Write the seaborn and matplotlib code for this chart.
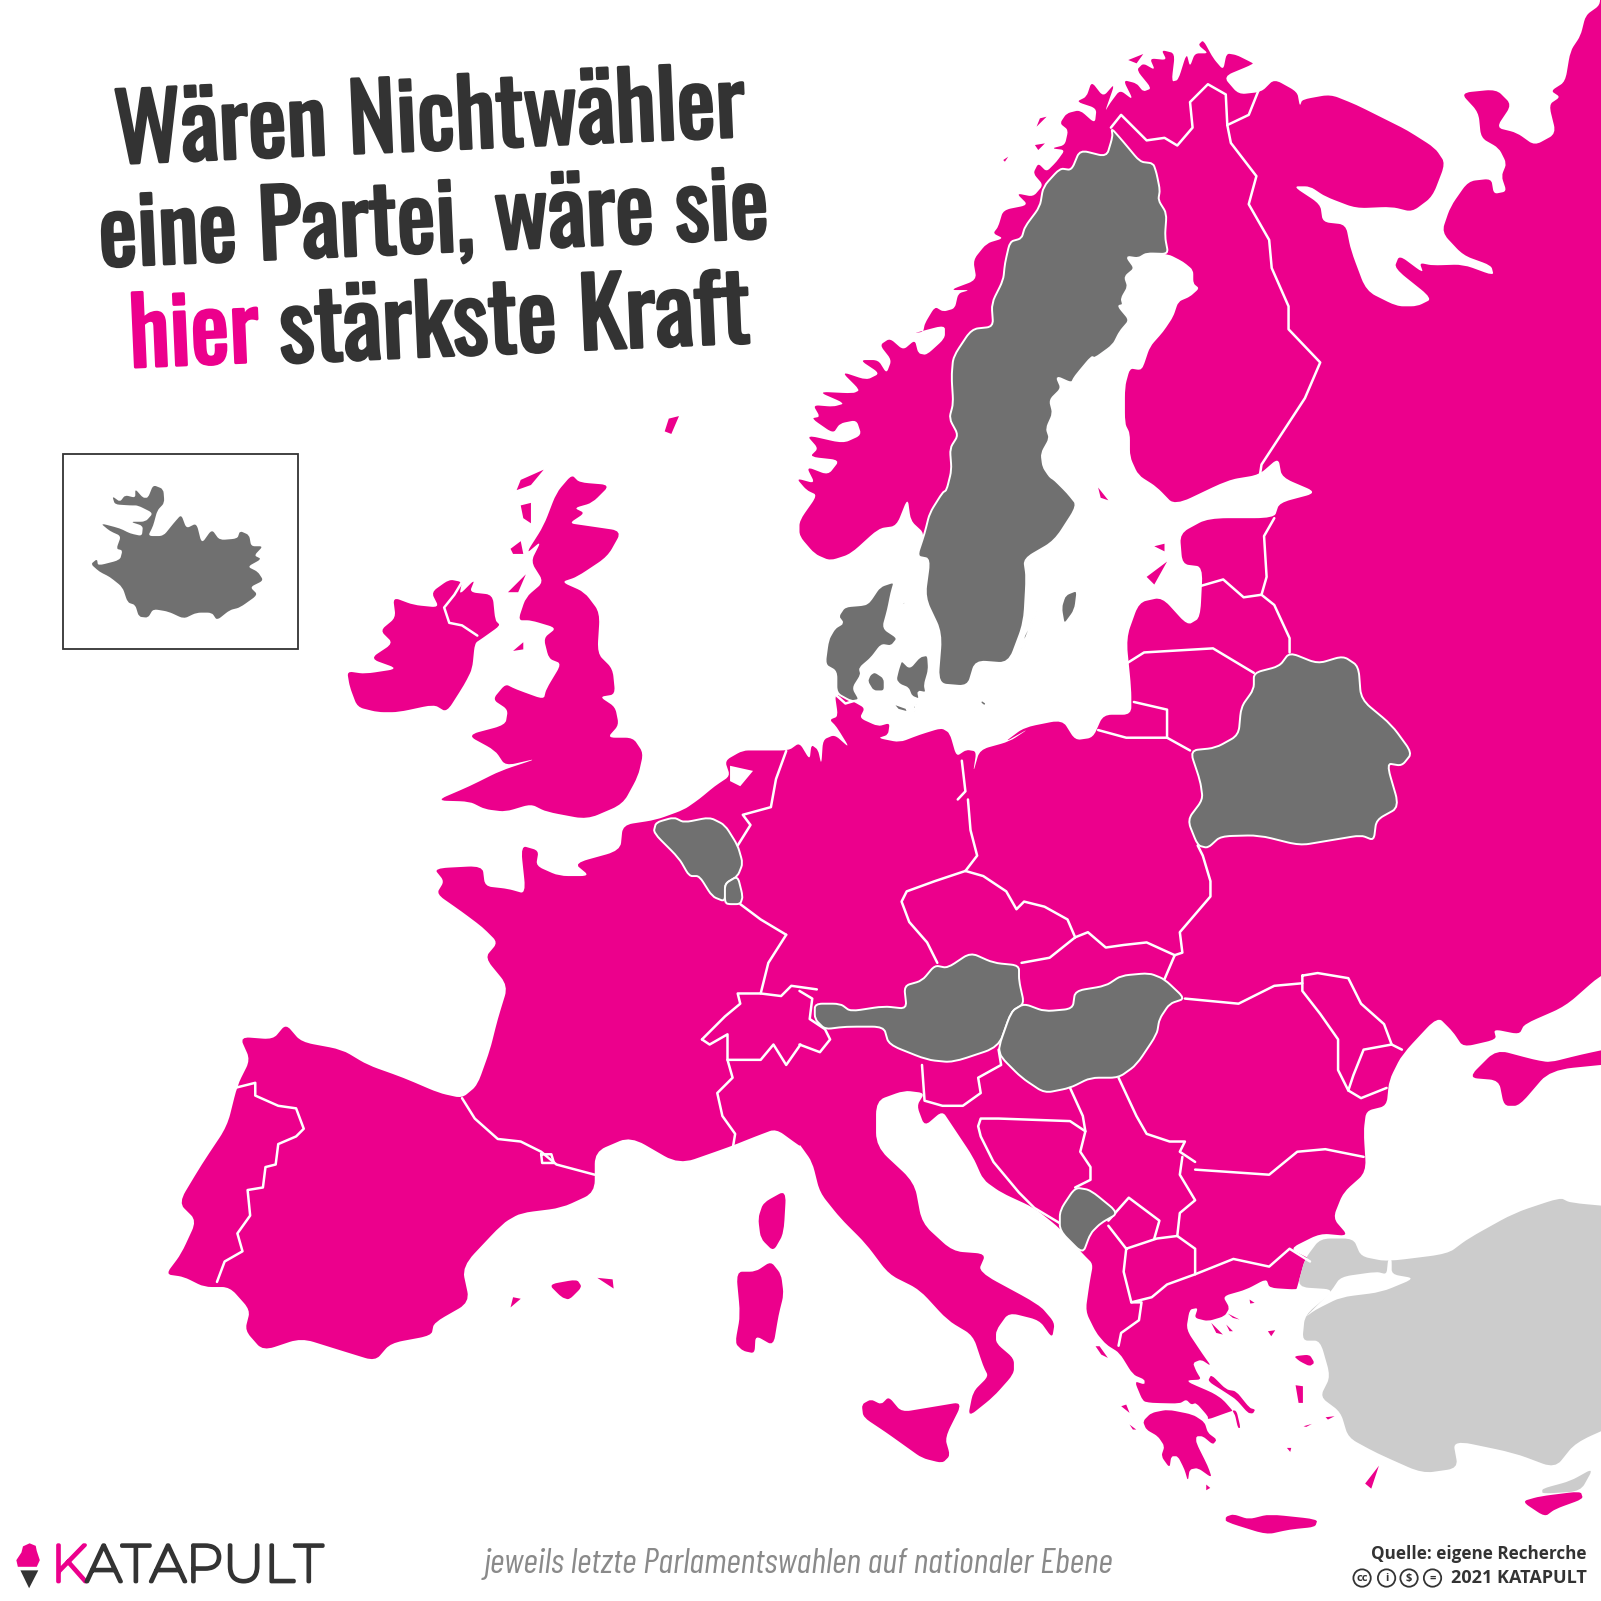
import matplotlib
matplotlib.use("Agg")
import matplotlib.pyplot as plt
import matplotlib.patheffects as pe
from matplotlib.patches import Circle, PathPatch, Rectangle
from matplotlib.path import Path
import pandas as pd
import seaborn as sns

PINK = "#EC008C"
DARK_GRAY = "#707070"
LIGHT_GRAY = "#CCCCCC"
TEXT = "#333333"

Q1 = (0, 0, 0.5)
Q2 = (783, 0, 0.5)
Q3 = (0, 783, 0.5)
Q4 = (783, 783, 0.5)
NORDIC = (773.6, 29.4, 0.3265)
DENMARK = (793, 548.2, 0.3265)
GREECE = (1057.3, 1214, 0.3265)

coast_russia_north = [(1600, -40), (1568, -20), (1568, 10), (1540, 30), (1530, 70), (1510, 100), (1500, 160), (1472, 178), (1490, 190), (1468, 205), (1482, 262),
    (1440, 285), (1405, 260), (1365, 250), (1395, 205), (1365, 175), (1295, 182), (1330, 220), (1335, 270), (1370, 290), (1385, 320),
    (1375, 345), (1385, 375), (1360, 380), (1355, 350), (1310, 355), (1275, 405), (1258, 455), (1300, 500), (1355, 520), (1360, 540),
    (1300, 518), (1240, 520), (1215, 515), (1222, 535), (1175, 500), (1165, 525), (1240, 585), (1210, 600), (1170, 600), (1110, 570),
    (1080, 490), (1070, 440), (1025, 435), (1020, 400), (967, 365), (1000, 365), (1030, 385), (1090, 408), (1160, 405), (1200, 415),
    (1240, 385), (1265, 320), (1245, 290), (1190, 255), (1150, 235), (1090, 205), (1040, 185), (985, 195), (980, 208), (975, 180), (930, 155),
    (905, 180), (860, 185), (830, 150), (890, 125)]
coast_norway_north = [(1380, 95), (1340, 75), (1310, 70), (1300, 120), (1270, 85), (1240, 30), (1225, 45), (1255, 70), (1215, 70), (1200, 110), (1190, 70), (1165, 150),
    (1145, 155), (1155, 70), (1115, 60), (1130, 90), (1080, 85), (1095, 120), (1060, 100), (1040, 120), (1085, 175), (1060, 185), (1040, 160), (1000, 150), (1030, 210),
    (990, 180), (960, 220), (945, 245), (975, 160), (940, 200), (905, 155), (890, 200), (860, 215), (920, 235), (915, 280), (870, 240), (830, 250), (810, 280), (835, 300),
    (825, 345), (785, 355), (825, 360), (800, 395), (770, 425), (745, 400), (730, 430), (760, 465), (730, 500), (680, 490), (715, 525), (640, 540), (625, 590), (610, 610),
    (640, 625), (590, 640), (550, 690), (560, 750), (480, 780), (540, 780), (505, 790), (495, 835), (460, 845), (435, 830), (405, 880), (400, 905), (370, 910), (465, 885),
    (465, 925), (410, 975), (385, 970), (375, 930), (340, 960), (300, 925), (270, 945), (305, 990), (290, 1030), (265, 990), (210, 990), (270, 1030), (230, 1050), (155, 1025),
    (210, 1080), (190, 1090), (85, 1085), (165, 1120), (130, 1130), (70, 1125), (90, 1160), (65, 1165), (130, 1210), (150, 1180), (200, 1170), (215, 1215), (160, 1240),
    (50, 1215), (85, 1255), (60, 1280), (150, 1290), (115, 1335), (50, 1310), (75, 1360), (20, 1345), (50, 1380)]
coast_norway_south = [(35, 970), (0, 1020), (0, 1050), (30, 1085), (60, 1098), (100, 1085), (155, 1035), (190, 1030), (212, 975), (218, 1020), (245, 1045)]
coast_sweden_south = [(230, 1090), (255, 1095), (245, 1170), (278, 1240), (270, 1340), (330, 1345), (345, 1295), (410, 1300), (440, 1220), (445, 1130),
    (440, 1095), (500, 1060), (545, 990), (525, 965), (500, 940)]
coast_sweden_north = [(780, 1340), (760, 1310), (755, 1270), (780, 1225), (770, 1195), (790, 1150), (780, 1110), (815, 1075), (800, 1040), (845, 1060), (855, 1040),
    (905, 980), (915, 985), (970, 945), (990, 905), (1020, 870), (985, 828), (1000, 825), (995, 805), (1015, 770), (1005, 740), (1035, 715), (1010, 680), (1045, 685), (1070, 670),
    (1135, 672)]
coast_finland = [(1180, 695), (1210, 720), (1210, 760), (1228, 775), (1200, 800), (1165, 815), (1150, 860), (1120, 905), (1080, 950), (1060, 1010), (1050, 1020), (1020, 1015),
    (1005, 1070), (1005, 1180), (1020, 1210), (1020, 1280), (1045, 1335), (1100, 1370)]
coast_baltic_east = [(735, 990), (840, 940), (900, 930), (938, 897), (945, 935), (1015, 965), (940, 985), (930, 1015), (800, 1015), (745, 1045), (750, 1105), (790, 1110),
    (785, 1210), (760, 1225), (710, 1170), (665, 1180), (640, 1250), (650, 1350), (650, 1400), (595, 1400), (575, 1445), (540, 1450), (515, 1410), (440, 1425), (400, 1455)]
coast_germany = [(660, 505), (600, 545), (510, 570), (490, 640), (500, 575), (470, 570), (440, 590), (420, 520), (395, 505), (330, 525), (270, 548), (205, 535), (235, 525),
    (240, 490), (205, 500), (150, 475), (165, 445), (130, 425), (75, 400), (85, 470), (60, 480), (80, 500), (120, 565), (75, 525), (40, 540), (35, 615), (25, 570), (5, 555), (0, 600)]
coast_netherlands = [(1566, 1455), (1545, 1470), (1490, 1470), (1455, 1470), (1420, 1490), (1430, 1520), (1400, 1540), (1370, 1565)]
coast_west = [(1340, 20), (1285, 40), (1220, 50), (1215, 100), (1125, 125), (1155, 150), (1095, 150), (1050, 130), (1055, 100), (1020, 90), (1030, 185),
    (995, 175), (950, 170), (945, 130), (850, 135), (870, 160), (855, 185), (905, 220), (945, 250), (975, 280), (950, 310), (995, 365), (975, 430),
    (960, 490), (935, 560), (905, 585), (860, 575), (790, 545), (720, 520), (670, 490), (590, 475), (560, 440), (535, 470), (470, 465), (490, 510),
    (465, 560), (445, 640), (395, 715), (350, 790), (385, 825), (355, 890), (325, 930), (360, 935), (400, 955), (450, 955), (490, 1000), (480, 1040),
    (515, 1080), (590, 1055), (670, 1080), (735, 1100), (765, 1065), (845, 1050), (850, 1025), (920, 985), (905, 915), (985, 830), (1020, 810),
    (1100, 800), (1165, 770), (1165, 690), (1235, 660), (1330, 715), (1430, 680), (1480, 660), (1520, 645), (1568, 680)]
coast_italy = [(0, 675), (25, 710), (40, 770), (80, 820), (130, 870), (175, 930), (235, 960), (290, 1020), (340, 1050), (360, 1110), (370, 1130),
    (340, 1160), (330, 1210), (380, 1170), (420, 1125), (420, 1095), (385, 1065), (385, 1040), (410, 1005), (470, 1020), (495, 1055), (500, 1025),
    (470, 990), (350, 925), (365, 890), (300, 885), (240, 830), (225, 750), (150, 680), (150, 590), (205, 570), (245, 575), (230, 600), (245, 640),
    (280, 610), (300, 640), (340, 700), (360, 745), (395, 770), (460, 800), (510, 840), (555, 890), (575, 910)]
coast_greece = [(30, 130), (18, 215), (50, 280), (80, 315), (120, 340), (160, 405), (195, 420), (195, 435), (165, 425), (190, 485), (215, 490), (300, 492), (320, 480), (335, 495),
    (350, 490), (385, 530), (385, 540), (440, 520), (470, 510), (483, 565), (475, 565), (465, 520), (430, 480), (400, 460), (330, 430), (325, 422), (365, 420), (350, 395), (340, 370),
    (365, 360), (395, 380), (370, 345), (320, 270), (330, 210), (355, 205), (345, 235), (385, 245), (435, 230), (450, 205), (430, 170), (500, 150), (560, 118), (570, 145), (650, 150)]
coast_black_sea = [(975, 955), (990, 900), (1000, 900), (960, 880), (1020, 850), (1075, 855),
    (1045, 820), (1065, 770), (1110, 730), (1105, 650), (1110, 610), (1150, 600), (1155, 550), (1180, 500), (1250, 425), (1280, 455), (1300, 485),
    (1365, 470), (1360, 450), (1410, 460), (1420, 440), (1500, 405), (1568, 345), (1620, 320), (1620, -800)]

crimea = [(1310, 545), (1365, 490), (1440, 510), (1470, 515), (1530, 500), (1600, 485), (1620, 480), (1620, 515), (1470, 530), (1410, 600), (1380, 600), (1370, 550)]
ireland = [(770, 1170), (810, 1185), (860, 1190), (845, 1160), (880, 1135), (905, 1140), (900, 1165), (930, 1135), (920, 1160), (965, 1165), (970, 1215),
    (980, 1225), (945, 1250), (930, 1260), (925, 1310), (910, 1340), (875, 1395), (850, 1380), (780, 1395), (740, 1395), (700, 1385), (685, 1345),
    (680, 1315), (715, 1320), (780, 1310), (725, 1290), (770, 1260), (745, 1235), (775, 1210)]
great_britain = [(1120, 930), (1135, 945), (1195, 950), (1160, 985), (1125, 995), (1145, 1005), (1115, 1025), (1150, 1030), (1218, 1040), (1190, 1090),
    (1130, 1130), (1100, 1140), (1145, 1160), (1175, 1200), (1170, 1280), (1200, 1310), (1205, 1360), (1175, 1365), (1205, 1385), (1212, 1420),
    (1190, 1445), (1240, 1445), (1260, 1475), (1250, 1520), (1220, 1575), (1150, 1605), (1070, 1590), (1040, 1575), (990, 1590), (950, 1585), (920, 1570),
    (855, 1568), (920, 1540), (980, 1510), (1055, 1485), (990, 1500), (970, 1470), (915, 1440), (990, 1420), (995, 1390), (965, 1370), (990, 1340),
    (1010, 1350), (1065, 1370), (1070, 1350), (1100, 1300), (1075, 1290), (1065, 1250), (1090, 1230), (1040, 1215), (1015, 1215), (1030, 1170),
    (1065, 1140), (1040, 1100), (1060, 1060), (1030, 1085), (1065, 1030), (1090, 965)]
hebrides = [(1020, 940), (1065, 920), (1040, 950), (1012, 960)]
skye = [(1020, 990), (1040, 985), (1040, 1025), (1025, 1015)]
uist = [(1000, 1075), (1020, 1060), (1025, 1085), (1005, 1085)]
mull = [(995, 1160), (1030, 1125), (1015, 1160)]
man = [(1005, 1275), (1025, 1258), (1025, 1272)]
faroe = [(1310, 820), (1330, 815), (1315, 850), (1302, 845)]

corsica = [(1540, 765), (1535, 850), (1515, 885), (1490, 860), (1485, 820), (1495, 790)]
sardinia = [(1510, 905), (1530, 930), (1535, 970), (1525, 1010), (1515, 1070), (1480, 1050), (1478, 1085), (1455, 1080), (1440, 1065), (1450, 1010),
    (1442, 925), (1480, 925)]
mallorca = [(1075, 950), (1130, 940), (1140, 955), (1115, 980), (1100, 975)]
menorca = [(1170, 937), (1200, 940), (1202, 958)]
ibiza = [(1005, 975), (1020, 978), (1000, 995)]

sicily = [(122, 1185), (140, 1175), (160, 1185), (175, 1170), (200, 1200), (260, 1190), (320, 1180), (285, 1250), (295, 1285), (280, 1300), (240, 1290),
    (205, 1265), (170, 1240), (125, 1210)]
crete = [(835, 1405), (850, 1400), (880, 1410), (920, 1400), (1015, 1410), (1010, 1425), (960, 1430), (915, 1440), (835, 1415)]
rhodes = [(1135, 1305), (1120, 1350), (1108, 1340)]
cyprus_south = [(1415, 1375), (1450, 1365), (1530, 1355), (1535, 1370), (1480, 1390), (1460, 1405)]
peloponnese = [(190, 545), (215, 520), (265, 510), (340, 525), (375, 548), (385, 580), (412, 600), (400, 615), (370, 590), (350, 590), (350, 610), (385, 680), (397, 715), (355, 685),
    (330, 690), (325, 725), (315, 690), (295, 650), (275, 650), (270, 685), (245, 650), (255, 620), (235, 590), (200, 570)]
euboea = [(395, 405), (440, 450), (470, 455), (510, 505), (527, 510), (520, 522), (505, 520), (470, 480), (440, 460), (385, 425)]
corfu = [(48, 320), (60, 320), (85, 355), (65, 345)]
cephalonia = [(125, 500), (140, 495), (150, 520)]
zakynthos = [(150, 555), (170, 570), (160, 570)]
kythera = [(380, 735), (392, 745), (380, 752)]
lesbos = [(643, 350), (690, 345), (705, 370), (690, 380), (660, 365)]
chios = [(648, 437), (670, 440), (670, 490), (657, 490)]
thasos = [(510, 180), (525, 190), (512, 192)]
lemnos = [(565, 275), (587, 272), (575, 290)]
kassandra = [(395, 250), (430, 285), (410, 280)]
sithonia = [(440, 255), (460, 275), (450, 275)]
athos = [(445, 222), (480, 240), (460, 235)]
samos = [(738, 533), (765, 530), (745, 540)]
naxos = [(622, 625), (635, 625), (632, 637)]
andros = [(672, 560), (697, 553), (680, 562)]

lofoten = [(735, 345), (765, 340), (745, 360)]
vesteralen = [(750, 265), (770, 260), (740, 290)]
senja = [(640, 390), (655, 380), (645, 395)]
soroya = [(1015, 90), (1060, 72), (1040, 100)]
saaremaa = [(680, 1130), (720, 1100), (695, 1145)]
hiiumaa = [(695, 1070), (715, 1065), (715, 1080)]
aland = [(585, 955), (605, 980), (590, 975)]

sweden_west = [(965, 295), (968, 320), (950, 380), (870, 360), (845, 420), (810, 415), (760, 470), (750, 530), (705, 590), (695, 625), (660, 635), (645, 700), (640, 750), (605, 820),
    (610, 890), (545, 897), (490, 980), (485, 1040), (490, 1120), (478, 1165), (505, 1215), (480, 1255), (485, 1320), (470, 1380)]
sweden_south_west = [(280, 965), (255, 1005), (245, 1045)]
sweden_east_border = [(1125, 620), (1130, 550), (1105, 510), (1110, 480), (1100, 430), (1090, 400), (1050, 395), (1000, 335)]
gotland = [(520, 1165), (545, 1155), (540, 1195), (518, 1225), (512, 1190)]
oland = [(465, 1198), (435, 1270), (440, 1245)]
jutland = [(255, 65), (210, 80), (180, 125), (165, 135), (105, 140), (85, 170), (100, 190), (75, 205), (55, 240), (45, 315), (80, 335), (80, 400), (125, 425), (150, 420), (130, 385),
    (155, 345), (150, 325), (185, 295), (215, 255), (245, 260), (265, 235), (220, 205), (235, 150), (245, 100)]
funen = [(195, 335), (225, 355), (225, 395), (190, 395), (172, 365), (180, 345)]
zealand = [(265, 330), (275, 300), (300, 325), (330, 290), (355, 285), (358, 330), (345, 375), (350, 400), (325, 395), (330, 420), (305, 410), (295, 385), (270, 375), (258, 360)]
lolland = [(248, 430), (290, 445), (295, 458), (265, 450)]
falster = [(310, 440), (320, 435), (315, 455)]
bornholm = [(515, 420), (530, 430), (525, 440), (512, 430)]
laeso = [(272, 130), (288, 125), (285, 135)]
belarus = [(765, 1470), (815, 1465), (860, 1440), (865, 1385), (890, 1350), (890, 1318), (940, 1305), (960, 1278), (1015, 1300), (1065, 1285), (1095, 1305),
    (1100, 1370), (1160, 1420), (1200, 1475), (1180, 1500), (1150, 1495), (1175, 1581), (1130, 1606), (1125, 1646), (1100, 1636), (1040, 1646), (980, 1656),
    (900, 1636), (825, 1638), (800, 1661), (780, 1656), (760, 1606), (790, 1566), (785, 1530)]
belgium = [(1285, 45), (1320, 35), (1340, 45), (1390, 35), (1420, 50), (1445, 90), (1455, 125), (1445, 150), (1420, 165), (1420, 200), (1395, 190), (1370, 150),
    (1350, 150), (1330, 115), (1280, 65)]
luxembourg = [(1420, 200), (1420, 165), (1445, 150), (1455, 190), (1450, 205), (1425, 205)]
austria = [(30, 400), (80, 400), (100, 415), (165, 405), (210, 410), (205, 365), (240, 355), (265, 325), (290, 330), (335, 300), (380, 320), (430, 325), (430, 355),
    (440, 400), (415, 415), (390, 485), (300, 515), (250, 510), (175, 480), (165, 445), (90, 445), (50, 450), (30, 430)]
hungary = [(440, 400), (480, 415), (535, 410), (540, 375), (600, 365), (630, 345), (685, 340), (715, 352), (755, 390), (725, 400), (705, 430), (700, 460), (660, 520),
    (625, 545), (570, 545), (530, 565), (480, 575), (435, 545), (395, 505), (390, 485), (415, 415)]
montenegro = [(540, 760), (570, 765), (625, 810), (590, 830), (570, 850), (555, 890), (510, 845), (510, 805)]
iceland = [(178, 1105), (190, 1095), (192, 1108), (235, 1097), (240, 1078), (228, 1075), (237, 1050), (215, 1040), (197, 1025), (235, 1035), (255, 1045), (278, 1050), (280, 1030),
    (255, 1022), (285, 1022), (300, 1005), (270, 990), (255, 990), (225, 988), (220, 972), (235, 983), (245, 970), (265, 975), (265, 958), (280, 975), (290, 975), (300, 950),
    (320, 958), (322, 985), (308, 1000), (300, 1030), (290, 1050), (320, 1050), (340, 1025), (355, 1008), (365, 1035), (385, 1025), (395, 1065), (415, 1037), (430, 1058),
    (465, 1055), (470, 1040), (488, 1048), (492, 1070), (515, 1070), (498, 1088), (512, 1095), (485, 1110), (505, 1120), (516, 1137), (490, 1150), (505, 1165), (470, 1190),
    (450, 1195), (425, 1215), (415, 1200), (385, 1200), (360, 1212), (330, 1198), (300, 1193), (290, 1210), (272, 1208), (265, 1185), (250, 1180), (240, 1150), (215, 1130),
    (195, 1120)]

turkey = [(975, 955), (990, 900), (1020, 860), (1085, 860), (1100, 895), (1150, 905), (1270, 890), (1310, 860), (1400, 810), (1490, 780), (1510, 790), (1620, 800),
    (1620, 1215), (1520, 1260), (1480, 1310), (1400, 1280), (1280, 1255), (1290, 1310), (1220, 1320), (1130, 1280), (1075, 1250), (1060, 1200), (1020, 1170),
    (1040, 1130), (1020, 1060), (985, 1060), (990, 1010), (1050, 960)]
cyprus_north = [(1455, 1350), (1510, 1335), (1555, 1310), (1530, 1355), (1455, 1360)]
marmara = [(990, 1015), (1040, 965), (1060, 935), (1130, 925), (1150, 930), (1153, 900), (1160, 900), (1160, 930), (1205, 938), (1140, 965), (1060, 975), (1010, 1000)]
ijsselmeer = [(1430, 1500), (1475, 1510), (1450, 1540), (1430, 1530)]

border_no_fi = [(610, 250), (630, 225), (680, 275), (715, 270), (740, 285), (770, 250), (765, 200), (800, 165), (835, 185), (838, 245)]
border_no_ru = [(838, 245), (880, 225), (900, 175)]
border_fi_ru = [(838, 245), (845, 280), (895, 345), (880, 400), (920, 470), (925, 525), (958, 600), (958, 645), (1020, 710), (990, 780), (905, 910), (902, 930)]
border_ee_ru = [(930, 1015), (910, 1050), (915, 1130), (905, 1165)]
border_lv_ru = [(905, 1165), (930, 1185), (960, 1250), (960, 1278)]
border_ee_lv = [(785, 1148), (830, 1135), (870, 1170), (905, 1165)]
border_lv_lt = [(640, 1300), (675, 1278), (810, 1270), (890, 1318)]
border_lt_kal = [(655, 1375), (720, 1390), (720, 1445)]
border_pl_kal = [(585, 1430), (640, 1445), (720, 1445), (765, 1470)]
border_de_pl = [(318, 1490), (325, 1550), (310, 1566)]
border_de_dk = [(70, 1360), (90, 1378), (110, 1372)]
border_de_pl_low = [(330, 0), (335, 60), (348, 110), (325, 140)]
border_pl_ua = [(780, 90), (790, 110), (805, 160), (805, 190), (745, 260), (750, 300), (735, 305)]
border_pl_sk = [(735, 305), (680, 280), (635, 285), (600, 290), (565, 260), (540, 270)]
border_pl_cz = [(540, 270), (525, 235), (480, 210), (440, 200), (425, 215), (405, 180), (360, 150), (325, 140)]
border_de_cz = [(325, 140), (265, 160), (210, 180), (200, 200), (215, 240), (250, 280), (270, 320)]
border_cz_sk = [(540, 270), (490, 310), (435, 320)]
border_sk_ua = [(735, 305), (715, 352)]
border_ua_ro = [(755, 390), (860, 400), (930, 365), (985, 360)]
moldova = [(985, 345), (1015, 340), (1075, 350), (1100, 400), (1145, 440), (1160, 480), (1105, 490), (1085, 540), (1075, 570), (1055, 530), (1055, 470), (1020, 420), (985, 375), (985, 345)]
border_ua_ro_south = [(1075, 570), (1100, 585), (1150, 565)]
border_md_ua_end = [(1160, 480), (1180, 490)]
border_ro_rs = [(625, 545), (660, 620), (680, 655), (725, 670), (755, 670), (745, 690), (775, 710)]
border_ro_bg = [(775, 725), (920, 735), (975, 690), (1030, 685), (1105, 700)]
border_rs_bg = [(750, 700), (745, 735), (775, 785), (745, 810), (740, 855)]
macedonia = [(640, 880), (700, 860), (740, 855), (775, 880), (775, 930), (720, 950), (690, 975), (650, 985), (635, 925), (640, 880)]
border_bg_gr = [(775, 930), (850, 900), (920, 915), (960, 880), (1000, 905)]
border_al_gr = [(650, 985), (670, 985), (665, 1020), (630, 1045), (625, 1070)]
border_al_ks = [(605, 835), (640, 880)]
kosovo = [(605, 825), (645, 780), (705, 825), (695, 860)]
border_rs_hr = [(530, 565), (555, 620), (560, 650), (550, 690), (570, 720), (570, 745), (540, 760)]
bosnia = [(510, 830), (460, 800), (430, 770), (380, 710), (355, 660), (350, 640), (355, 625), (390, 625), (530, 630), (560, 650)]
slovenia = [(240, 520), (245, 590), (280, 600), (320, 600), (355, 575), (350, 545), (395, 520), (390, 490)]
border_fr_de_south = [(1540, 265), (1505, 320), (1490, 380)]
border_fr_de = [(1450, 205), (1490, 235), (1540, 265)]
swiss_north = [(1375, 470), (1420, 425), (1450, 400), (1445, 380), (1490, 380), (1530, 385), (1550, 365), (1600, 372)]
swiss_south = [(1375, 470), (1390, 480), (1425, 460), (1425, 510), (1490, 510), (1515, 480), (1540, 520), (1568, 480)]
swiss_east = [(0, 375), (25, 390), (20, 430), (50, 450), (60, 470), (40, 495), (0, 480)]
border_fr_it = [(1425, 510), (1435, 545), (1405, 575), (1415, 620), (1440, 655), (1435, 685)]
border_es_fr = [(905, 585), (930, 625), (975, 665), (1020, 670), (1060, 690), (1090, 715), (1165, 735)]
andorra = [(1060, 695), (1080, 695), (1085, 712), (1062, 712), (1060, 695)]
border_es_pt = [(460, 565), (500, 555), (500, 580), (545, 600), (580, 605), (595, 645), (580, 660), (545, 675), (540, 715), (520, 720), (515, 760), (485, 765), (490, 815),
    (465, 850), (475, 885), (440, 905), (425, 945)]
border_nl_de = [(1540, -95), (1520, -40), (1510, 15), (1455, 30), (1470, 50), (1445, 90)]
border_ni = [(905, 1140), (890, 1165), (870, 1190), (880, 1220), (905, 1225), (935, 1245)]


def shift(points, crop):
    return [(x * crop[2] + crop[0], y * crop[2] + crop[1]) for x, y in points]


def shift_all(parts, crop):
    return [shift(p, crop) for p in parts]


# Only the corners get softened, a third of each edge either side of a read point
def outline(points, soft=0.3):
    if len(points) < 5:
        return Path(points + points[:1], closed=True)
    n = len(points)
    verts, codes = [], []
    for i in range(n):
        a, b, c = points[i - 1], points[i], points[(i + 1) % n]
        verts += [(b[0] + soft * (a[0] - b[0]), b[1] + soft * (a[1] - b[1])), b, (b[0] + soft * (c[0] - b[0]), b[1] + soft * (c[1] - b[1]))]
        codes += [Path.MOVETO if i == 0 else Path.LINETO, Path.CURVE3, Path.CURVE3]
    verts.append(verts[0])
    codes.append(Path.LINETO)
    return Path(verts, codes)


def land(ax, points, face, edge="none", lw=0, zorder=1):
    ax.add_patch(PathPatch(outline(points), facecolor=face, edgecolor=edge, lw=lw, zorder=zorder))


# Pink mainland is one closed ring, walked anticlockwise from the top right corner
mainland = (shift(coast_russia_north, Q2) + shift(coast_norway_north, NORDIC) + shift(coast_norway_south, Q2) + shift(coast_sweden_south, Q2)
            + shift(coast_sweden_north, NORDIC) + shift(coast_finland, NORDIC) + shift(coast_baltic_east, Q2) + shift(coast_germany, DENMARK)
            + shift(coast_netherlands, Q1) + shift(coast_west, Q3) + shift(coast_italy, Q4) + shift(coast_greece, GREECE) + shift(coast_black_sea, Q4))

sweden = (shift(sweden_west, NORDIC) + shift(sweden_south_west, Q2) + shift(coast_sweden_south, Q2) + shift(coast_sweden_north, NORDIC)
          + shift(sweden_east_border, NORDIC))

pink_parts = shift_all([ireland, great_britain, hebrides, skye, uist, mull, man, faroe], Q1)
pink_parts += shift_all([corsica, sardinia, mallorca, menorca, ibiza], Q3)
pink_parts += shift_all([crimea, sicily, crete, rhodes, cyprus_south], Q4)
pink_parts += shift_all([peloponnese, euboea, corfu, cephalonia, zakynthos, kythera, lesbos, chios, thasos, lemnos, kassandra, sithonia, athos, samos, naxos, andros], GREECE)
pink_parts += shift_all([lofoten, vesteralen, senja, soroya], NORDIC)
pink_parts += shift_all([saaremaa, hiiumaa, aland], Q2)

gray_parts = [sweden] + shift_all([gotland, oland, belarus], Q2)
gray_parts += shift_all([jutland, funen, zealand, lolland, falster, bornholm, laeso], DENMARK)
gray_parts += shift_all([belgium, luxembourg], Q3)
gray_parts += shift_all([austria, hungary, montenegro], Q4)

borders = shift_all([border_no_fi, border_no_ru, border_fi_ru, border_ee_ru, border_lv_ru, border_ee_lv, border_lv_lt, border_lt_kal, border_pl_kal, border_de_pl, border_de_dk], Q2)
borders += shift_all([border_de_pl_low, border_pl_ua, border_pl_sk, border_pl_cz, border_de_cz, border_cz_sk, border_sk_ua, border_ua_ro,
                      moldova, border_ua_ro_south, border_md_ua_end, border_ro_rs, border_ro_bg, border_rs_bg, macedonia, border_bg_gr,
                      border_al_gr, border_al_ks, kosovo, border_rs_hr, bosnia, slovenia, swiss_east], Q4)
borders += shift_all([border_fr_de_south, border_fr_de, swiss_north, swiss_south, border_fr_it, border_es_fr, andorra, border_es_pt, border_nl_de], Q3)
borders += [shift(border_ni, Q1)]

sns.set_style("white")
fig = plt.figure(figsize=(16.01, 16.01), dpi=100)
ax = fig.add_axes([0, 0, 1, 1])

# Land
land(ax, mainland, PINK)
for part in pink_parts:
    land(ax, part, PINK)
land(ax, shift(turkey, Q4), LIGHT_GRAY)
land(ax, shift(cyprus_north, Q4), LIGHT_GRAY)
land(ax, shift(marmara, Q4), "white", zorder=2)
land(ax, shift(ijsselmeer, Q1), "white", zorder=2)

# Borders
for line in borders:
    df = pd.DataFrame(line, columns=["x", "y"])
    sns.lineplot(data=df, x="x", y="y", sort=False, estimator=None, color="white", lw=1.8, ax=ax, zorder=3)

for part in gray_parts:
    land(ax, part, DARK_GRAY, edge="white", lw=1.4, zorder=4)
land(ax, shift(iceland, Q1), DARK_GRAY, zorder=4)

ax.add_patch(Rectangle((62, 444.5), 230, 191, fill=False, ec=TEXT, lw=1.3, zorder=5))
ax.set_xlim(0, 1568)
ax.set_ylim(1568, 0)
ax.axis("off")

# Title, the font only comes in one weight here so a thin stroke thickens it
fat = [pe.withStroke(linewidth=2.2, foreground=TEXT)]
fat_pink = [pe.withStroke(linewidth=2.2, foreground=PINK)]
title_font = dict(family=["Oswald", "Liberation Sans Narrow", "DejaVu Sans"], weight="bold", fontsize=66, rotation=2.5, rotation_mode="anchor",
                  ha="center", va="center", zorder=6)
ax.text(421, 119, "Wären Nichtwähler", color=TEXT, path_effects=fat, **title_font)
ax.text(425, 219, "eine Partei, wäre sie", color=TEXT, path_effects=fat, **title_font)
ax.text(190, 329, "hier", color=PINK, path_effects=fat_pink, **title_font)
ax.text(504, 317, "stärkste Kraft", color=TEXT, path_effects=fat, **{**title_font, "fontsize": 68})

# Footer
ax.text(782, 1532, "jeweils letzte Parlamentswahlen auf nationaler Ebene", family=["Barlow Condensed", "DejaVu Sans"], style="italic",
        fontsize=25.7, color="#8A8A8A", ha="center", va="center")
logo_font = dict(family=["Montserrat", "Inter", "DejaVu Sans"], weight="bold", fontsize=37.5, ha="left", va="center")
ax.text(50, 1535, "K", color=PINK, path_effects=[pe.withStroke(linewidth=2.6, foreground=PINK)], **logo_font)
ax.text(84, 1535, "ATAPULT", color=TEXT, path_effects=[pe.withStroke(linewidth=2.6, foreground=TEXT)], **logo_font)
cone_top = [(58, 1457), (70, 1462), (72, 1472), (78, 1490), (72, 1503), (35, 1503), (32, 1490), (42, 1475), (45, 1463)]
cone_bottom = [(40, 1510), (75, 1510), (57, 1545)]
ax.fill(*zip(*shift(cone_top, Q3)), color=PINK, lw=0, zorder=6)
ax.fill(*zip(*shift(cone_bottom, Q3)), color=TEXT, lw=0, zorder=6)

ax.text(1554, 1522, "Quelle: eigene Recherche", family="Open Sans", weight="bold", fontsize=12.3, color=TEXT, ha="right", va="center")
ax.text(1554, 1545, "2021 KATAPULT", family="Open Sans", weight="bold", fontsize=13, color=TEXT, ha="right", va="center")
for cx, glyph in zip([1334, 1358, 1380, 1403], ["cc", "i", "$", "="]):
    ax.add_patch(Circle((cx, 1545.5), 8.5, fill=False, ec=TEXT, lw=1.3))
    ax.text(cx, 1545.5, glyph, family="Open Sans", weight="bold", fontsize=8, color=TEXT, ha="center", va="center")

fig.savefig("out.png", dpi=100)
